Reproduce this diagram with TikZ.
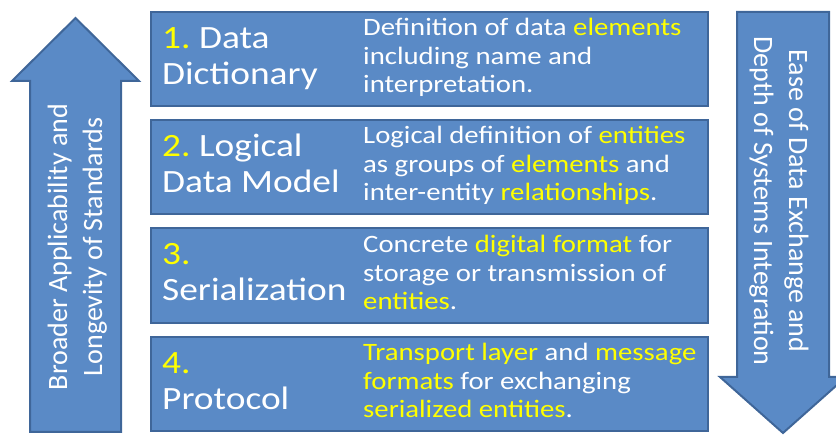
\documentclass[tikz,border=0pt]{standalone}
\usepackage{fontspec}
\setmainfont{Carlito}
\newfontfamily\wfont[FakeStretch=1.15]{Carlito}
\definecolor{fillb}{HTML}{5A8AC6}
\definecolor{edgeb}{HTML}{3F6699}
\definecolor{hlc}{HTML}{FFFF00}
\newcommand\yel[1]{\textcolor{hlc}{#1}}
\frenchspacing
\begin{document}
\begin{tikzpicture}[x=1pt,y=-1pt,
  panel/.style={draw=edgeb, fill=fillb, line width=2pt},
  boxpanel/.style={panel, rectangle, anchor=north west, inner sep=0pt, outer sep=0pt, minimum width=557pt},
  titletext/.style={anchor=base west, inner sep=0pt, text=white, font=\wfont\fontsize{32.5}{36}\selectfont\frenchspacing},
  desctext/.style={anchor=base west, inner sep=0pt, text=white, font=\wfont\fontsize{25}{28.5}\selectfont\frenchspacing},
  sidetext/.style={anchor=center, inner sep=0pt, text=white, font=\fontsize{28}{35}\selectfont}]
\useasboundingbox (0,0) rectangle (836,435);
\clip (0,0) rectangle (836,435);

% side arrows
\draw[panel] (30,432) -- (30,81) -- (12,81) -- (75.5,18) -- (139,81) -- (121,81) -- (121,432) -- cycle;
\draw[panel] (737,12) -- (829,12) -- (829,377) -- (846,377) -- (783,433) -- (720,377) -- (737,377) -- cycle;

\node[sidetext, rotate=90] (lefttxt) at (77.5,247)
  {\begin{tabular}{@{}c@{}}Broader Applicability and\\Longevity of Standards\end{tabular}};
\node[sidetext, rotate=-90] (righttxt) at (778.5,201)
  {\begin{tabular}{@{}c@{}}Ease of Data Exchange and\\Depth of Systems Integration\end{tabular}};

% boxes
\node[boxpanel, minimum height=94pt] (b1) at (151,12) {};
\node[boxpanel, minimum height=94pt] (b2) at (151,120) {};
\node[boxpanel, minimum height=95pt] (b3) at (151,228) {};
\node[boxpanel, minimum height=94pt] (b4) at (151,337) {};

% titles
\node[titletext] (t1) at (162,49)
  {\begin{tabular}[t]{@{}l@{}}\yel{1.} Data\\Dictionary\end{tabular}};
\node[titletext] (t2) at (162,157)
  {\begin{tabular}[t]{@{}l@{}}\yel{2.} Logical\\Data Model\end{tabular}};
\node[titletext] (t3) at (162,265)
  {\begin{tabular}[t]{@{}l@{}}\yel{3.}\\Serialization\end{tabular}};
\node[titletext] (t4) at (162,374)
  {\begin{tabular}[t]{@{}l@{}}\yel{4.}\\Protocol\end{tabular}};

% descriptions
\node[desctext] (d1) at (363,36)
  {\begin{tabular}[t]{@{}l@{}}Definition of data \yel{elements}\\including name and\\interpretation.\end{tabular}};
\node[desctext] (d2) at (363,144)
  {\begin{tabular}[t]{@{}l@{}}Logical definition of \yel{entities}\\as groups of \yel{elements} and\\inter-entity \yel{relationships}.\end{tabular}};
\node[desctext] (d3) at (363,253)
  {\begin{tabular}[t]{@{}l@{}}Concrete \yel{digital format} for\\storage or transmission of\\\yel{entities}.\end{tabular}};
\node[desctext] (d4) at (363,361)
  {\begin{tabular}[t]{@{}l@{}}\yel{Transport layer} and \yel{message}\\\yel{formats} for exchanging\\\yel{serialized entities}.\end{tabular}};
\end{tikzpicture}
\end{document}
